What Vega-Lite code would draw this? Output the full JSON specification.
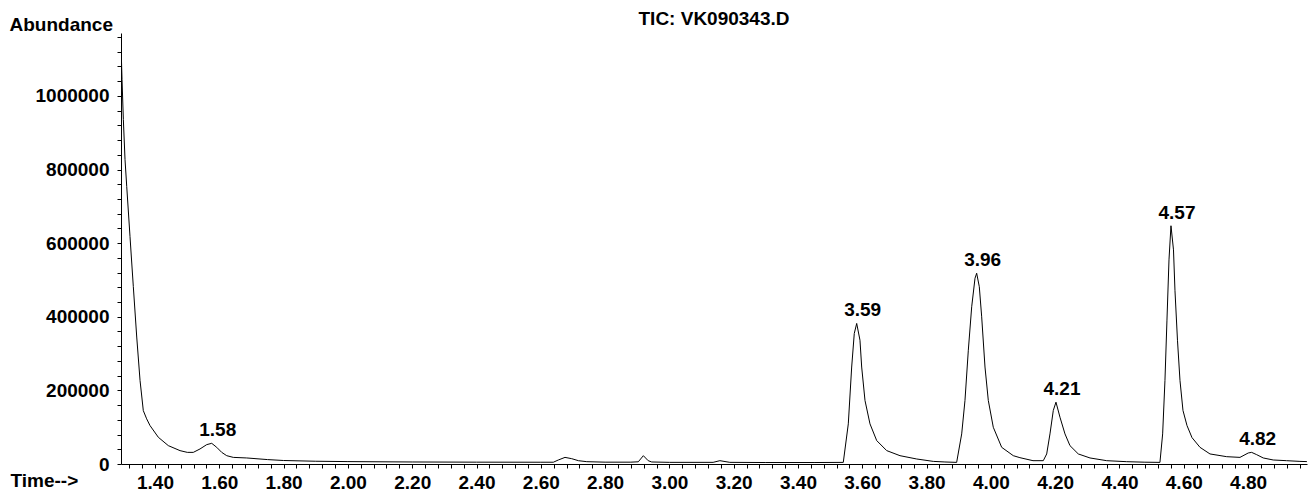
{
  "$schema": "https://vega.github.io/schema/vega-lite/v6.json",
  "autosize": {"type": "none"},
  "padding": {"left": 121, "top": 33, "right": 3, "bottom": 27},
  "width": 1186,
  "height": 431,
  "background": "white",
  "config": {
    "view": {"stroke": null},
    "font": "Liberation Sans",
    "axis": {
      "domainColor": "black", "domainWidth": 1, "tickColor": "black", "tickWidth": 1,
      "grid": false, "labelColor": "black", "titleColor": "black",
      "labelFont": "Liberation Sans", "titleFont": "Liberation Sans",
      "labelFontWeight": "bold", "titleFontWeight": "bold",
      "labelFontSize": 19, "titleFontSize": 19
    }
  },
  "title": {
    "text": "TIC: VK090343.D",
    "anchor": "middle",
    "font": "Liberation Sans",
    "fontSize": 19,
    "fontWeight": "bold",
    "color": "black",
    "baseline": "alphabetic",
    "offset": 0,
    "dy": 29
  },
  "datasets": {
    "tic": [
      {"time": 1.2942, "abundance": 1140000},
      {"time": 1.2974, "abundance": 1045000},
      {"time": 1.3015, "abundance": 936000},
      {"time": 1.3067, "abundance": 827000},
      {"time": 1.3120, "abundance": 754000},
      {"time": 1.3222, "abundance": 618000},
      {"time": 1.3325, "abundance": 482000},
      {"time": 1.3431, "abundance": 345000},
      {"time": 1.3534, "abundance": 227000},
      {"time": 1.3636, "abundance": 145000},
      {"time": 1.3740, "abundance": 122700},
      {"time": 1.3844, "abundance": 104500},
      {"time": 1.4103, "abundance": 72600},
      {"time": 1.4414, "abundance": 49900},
      {"time": 1.4778, "abundance": 36300},
      {"time": 1.5005, "abundance": 31600},
      {"time": 1.5191, "abundance": 31600},
      {"time": 1.5400, "abundance": 40900},
      {"time": 1.5608, "abundance": 52600},
      {"time": 1.5764, "abundance": 56200},
      {"time": 1.5919, "abundance": 45300},
      {"time": 1.6075, "abundance": 31600},
      {"time": 1.6230, "abundance": 22600},
      {"time": 1.6435, "abundance": 18000},
      {"time": 1.6852, "abundance": 16400},
      {"time": 1.75, "abundance": 12000},
      {"time": 1.80, "abundance": 9500},
      {"time": 1.90, "abundance": 7500},
      {"time": 2.00, "abundance": 6500},
      {"time": 2.20, "abundance": 5500},
      {"time": 2.40, "abundance": 5000},
      {"time": 2.60, "abundance": 4800},
      {"time": 2.639, "abundance": 4800},
      {"time": 2.6545, "abundance": 10900},
      {"time": 2.6753, "abundance": 18000},
      {"time": 2.696, "abundance": 14500},
      {"time": 2.717, "abundance": 9000},
      {"time": 2.743, "abundance": 6300},
      {"time": 2.80, "abundance": 5000},
      {"time": 2.88, "abundance": 5000},
      {"time": 2.9033, "abundance": 6000},
      {"time": 2.919, "abundance": 22600},
      {"time": 2.934, "abundance": 9000},
      {"time": 2.945, "abundance": 5500},
      {"time": 3.00, "abundance": 4500},
      {"time": 3.136, "abundance": 4500},
      {"time": 3.157, "abundance": 9000},
      {"time": 3.188, "abundance": 4500},
      {"time": 3.30, "abundance": 4000},
      {"time": 3.45, "abundance": 4000},
      {"time": 3.5409, "abundance": 4400},
      {"time": 3.5565, "abundance": 109100},
      {"time": 3.5670, "abundance": 263500},
      {"time": 3.5751, "abundance": 354600},
      {"time": 3.5826, "abundance": 381900},
      {"time": 3.5928, "abundance": 336300},
      {"time": 3.5981, "abundance": 263500},
      {"time": 3.6084, "abundance": 172600},
      {"time": 3.6239, "abundance": 109100},
      {"time": 3.6448, "abundance": 63600},
      {"time": 3.6759, "abundance": 36400},
      {"time": 3.7173, "abundance": 22600},
      {"time": 3.7692, "abundance": 13600},
      {"time": 3.8208, "abundance": 7100},
      {"time": 3.857, "abundance": 5500},
      {"time": 3.8935, "abundance": 4400},
      {"time": 3.9092, "abundance": 81800},
      {"time": 3.9194, "abundance": 172600},
      {"time": 3.9298, "abundance": 309100},
      {"time": 3.9403, "abundance": 427200},
      {"time": 3.9506, "abundance": 504600},
      {"time": 3.9558, "abundance": 518300},
      {"time": 3.9640, "abundance": 481700},
      {"time": 3.9714, "abundance": 399900},
      {"time": 3.9817, "abundance": 263500},
      {"time": 3.9920, "abundance": 172600},
      {"time": 4.0075, "abundance": 99800},
      {"time": 4.0336, "abundance": 45300},
      {"time": 4.0697, "abundance": 22600},
      {"time": 4.0903, "abundance": 17200},
      {"time": 4.131, "abundance": 9000},
      {"time": 4.163, "abundance": 9000},
      {"time": 4.1736, "abundance": 27300},
      {"time": 4.1838, "abundance": 81800},
      {"time": 4.1941, "abundance": 145400},
      {"time": 4.2025, "abundance": 168000},
      {"time": 4.2149, "abundance": 127100},
      {"time": 4.2305, "abundance": 81800},
      {"time": 4.2460, "abundance": 49900},
      {"time": 4.2719, "abundance": 27300},
      {"time": 4.3083, "abundance": 16400},
      {"time": 4.3602, "abundance": 9000},
      {"time": 4.4224, "abundance": 6300},
      {"time": 4.479, "abundance": 4900},
      {"time": 4.5259, "abundance": 4400},
      {"time": 4.5343, "abundance": 81800},
      {"time": 4.5415, "abundance": 227200},
      {"time": 4.5477, "abundance": 390900},
      {"time": 4.5540, "abundance": 554600},
      {"time": 4.5602, "abundance": 647300},
      {"time": 4.5680, "abundance": 581800},
      {"time": 4.5726, "abundance": 472000},
      {"time": 4.5804, "abundance": 336300},
      {"time": 4.5882, "abundance": 227200},
      {"time": 4.5975, "abundance": 145400},
      {"time": 4.6100, "abundance": 104500},
      {"time": 4.6255, "abundance": 71800},
      {"time": 4.6504, "abundance": 45300},
      {"time": 4.6815, "abundance": 27300},
      {"time": 4.7334, "abundance": 19900},
      {"time": 4.7748, "abundance": 18000},
      {"time": 4.8007, "abundance": 30000},
      {"time": 4.8111, "abundance": 31600},
      {"time": 4.8267, "abundance": 25400},
      {"time": 4.8472, "abundance": 16400},
      {"time": 4.8783, "abundance": 10900},
      {"time": 4.9198, "abundance": 9000},
      {"time": 4.9613, "abundance": 7100},
      {"time": 4.983, "abundance": 6500}
    ],
    "peaks": [
      {"time": 1.5764, "abundance": 56200, "label": "1.58"},
      {"time": 3.5826, "abundance": 381900, "label": "3.59"},
      {"time": 3.9558, "abundance": 518300, "label": "3.96"},
      {"time": 4.2025, "abundance": 168000, "label": "4.21"},
      {"time": 4.5602, "abundance": 647300, "label": "4.57"},
      {"time": 4.8111, "abundance": 31600, "label": "4.82"}
    ]
  },
  "layer": [
    {
      "data": {"name": "tic"},
      "mark": {"type": "line", "color": "black", "strokeWidth": 1, "clip": true},
      "encoding": {
        "x": {
          "field": "time", "type": "quantitative",
          "scale": {"domain": [1.2942, 4.9833], "nice": false, "zero": false},
          "axis": {
            "title": "Time-->",
            "titleAngle": 0, "titleAlign": "left", "titleBaseline": "alphabetic",
            "titleX": -111, "titleY": 22,
            "values": [1.32,1.36,1.4,1.44,1.48,1.52,1.56,1.6,1.64,1.68,1.72,1.76,1.8,1.84,1.88,1.92,1.96,2,2.04,2.08,2.12,2.16,2.2,2.24,2.28,2.32,2.36,2.4,2.44,2.48,2.52,2.56,2.6,2.64,2.68,2.72,2.76,2.8,2.84,2.88,2.92,2.96,3,3.04,3.08,3.12,3.16,3.2,3.24,3.28,3.32,3.36,3.4,3.44,3.48,3.52,3.56,3.6,3.64,3.68,3.72,3.76,3.8,3.84,3.88,3.92,3.96,4,4.04,4.08,4.12,4.16,4.2,4.24,4.28,4.32,4.36,4.4,4.44,4.48,4.52,4.56,4.6,4.64,4.68,4.72,4.76,4.8,4.84,4.88,4.92,4.96],
            "tickCount": 500,
            "labelExpr": "abs(datum.value*5 - round(datum.value*5)) < 0.001 ? format(datum.value, '.2f') : ''",
            "labelOverlap": false, "labelFlush": false, "labelBound": false,
            "tickSize": 4, "labelPadding": 5
          }
        },
        "y": {
          "field": "abundance", "type": "quantitative",
          "scale": {"domain": [0, 1171000], "nice": false, "zero": false},
          "axis": {
            "title": "Abundance",
            "titleAngle": 0, "titleAlign": "left", "titleBaseline": "alphabetic",
            "titleX": -112, "titleY": -3,
            "values": [0,40000,80000,120000,160000,200000,240000,280000,320000,360000,400000,440000,480000,520000,560000,600000,640000,680000,720000,760000,800000,840000,880000,920000,960000,1000000,1040000,1080000,1120000,1160000],
            "tickCount": 500,
            "labelExpr": "datum.value % 200000 === 0 ? format(datum.value, 'd') : ''",
            "labelOverlap": false, "labelFlush": false, "labelBound": false,
            "tickSize": 4, "labelPadding": 8
          }
        }
      }
    },
    {
      "data": {"name": "peaks"},
      "mark": {"type": "text", "font": "Liberation Sans", "fontSize": 19, "fontWeight": "bold", "color": "black", "baseline": "alphabetic", "align": "center", "dx": 6, "dy": -7},
      "encoding": {
        "x": {"field": "time", "type": "quantitative"},
        "y": {"field": "abundance", "type": "quantitative"},
        "text": {"field": "label"}
      }
    }
  ]
}
